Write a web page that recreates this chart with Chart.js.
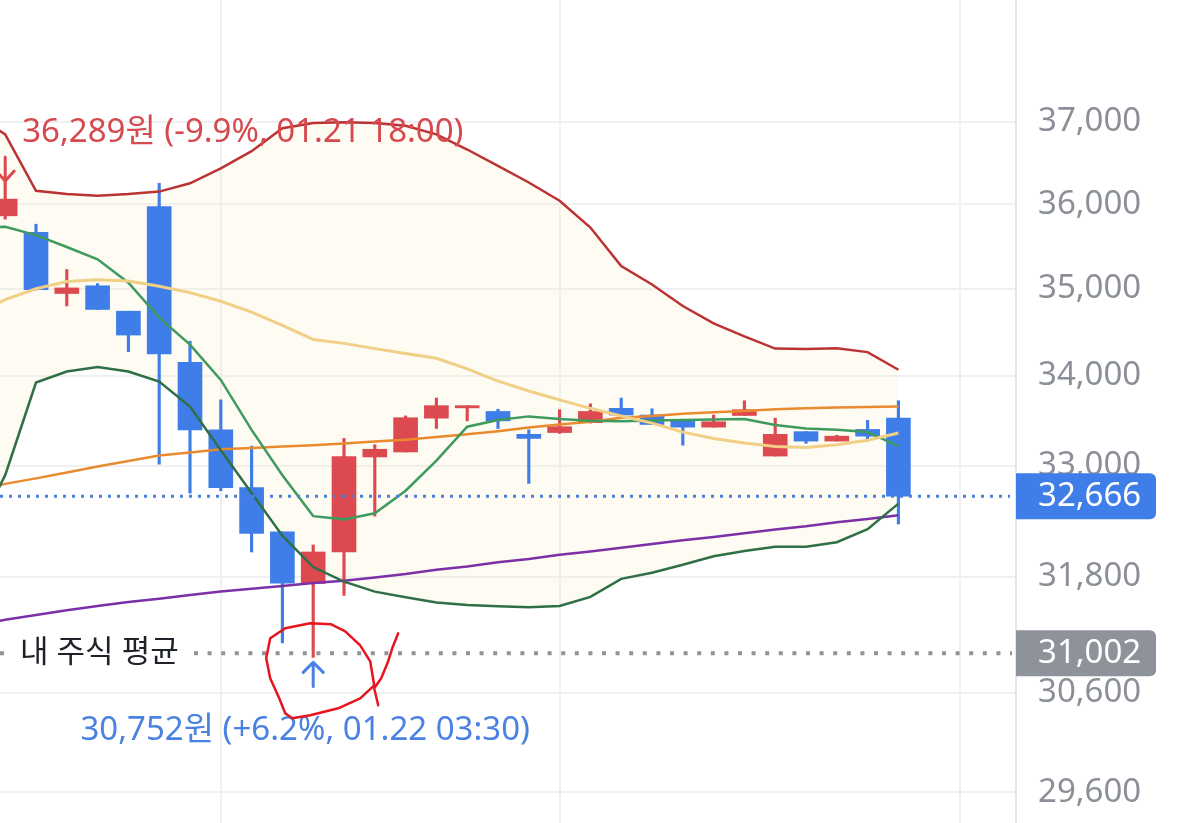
<!DOCTYPE html>
<html lang="ko">
<head>
<meta charset="utf-8">
<script src="https://cdn.jsdelivr.net/npm/chart.js@4"></script>
<style>
  html, body { margin: 0; padding: 0; background: #fff; }
  #grafico { display: block; }
</style>
</head>
<body>
<canvas id="grafico" width="1200" height="823"></canvas>
<script>
// velas (indice de cada vela de 30 min)
const velas = [0, 1, 2, 3, 4, 5, 6, 7, 8, 9, 10, 11, 12, 13, 14, 15, 16, 17, 18, 19, 20, 21, 22, 23, 24, 25, 26, 27, 28, 29];
const abertura = [35860, 35665, 34945, 35035, 34740, 35970, 34155, 33395, 32760, 32280, 31730, 32065, 33095, 33150, 33525, 33640, 33600, 33345, 33365, 33475, 33635, 33560, 33500, 33425, 33555, 33105, 33375, 33270, 33400, 33525];
const maxima = [36289, 35760, 35225, 35060, 34740, 36250, 34395, 33730, 33215, 32280, 32140, 33300, 33230, 33550, 33750, 33665, 33625, 33395, 33620, 33685, 33750, 33630, 33500, 33560, 33720, 33525, 33375, 33335, 33500, 33720];
const minima = [35820, 34985, 34800, 34760, 34275, 33015, 32700, 32725, 32065, 31110, 30960, 31605, 32450, 33150, 33410, 33495, 33410, 32805, 33355, 33470, 33560, 33455, 33225, 33425, 33555, 33105, 33245, 33270, 33270, 32365];
const fechamento = [36060, 34990, 35010, 34760, 34465, 34250, 33395, 32760, 32265, 31735, 32065, 33100, 33180, 33530, 33665, 33665, 33495, 33300, 33430, 33600, 33560, 33455, 33425, 33485, 33620, 33345, 33270, 33325, 33325, 32666];

// indicadores (comecam uma vela antes da primeira visivel)
const linhaX = [-1, 0, 1, 2, 3, 4, 5, 6, 7, 8, 9, 10, 11, 12, 13, 14, 15, 16, 17, 18, 19, 20, 21, 22, 23, 24, 25, 26, 27, 28, 29];
const bandaSuperior = [37090, 36845, 36160, 36120, 36100, 36120, 36150, 36250, 36430, 36640, 36920, 36985, 36995, 36985, 36950, 36845, 36660, 36460, 36260, 36040, 35720, 35265, 35050, 34800, 34600, 34450, 34310, 34305, 34315, 34270, 34070];
const bandaInferior = [32235, 32895, 33925, 34050, 34100, 34050, 33935, 33655, 33170, 32700, 32240, 31905, 31750, 31645, 31585, 31530, 31505, 31490, 31480, 31495, 31590, 31780, 31845, 31930, 32020, 32075, 32120, 32120, 32170, 32310, 32585];
const bandaMeio = [34690, 34875, 35000, 35085, 35105, 35090, 35030, 34955, 34855, 34730, 34575, 34415, 34370, 34310, 34255, 34200, 34080, 33940, 33830, 33730, 33635, 33550, 33470, 33370, 33300, 33250, 33210, 33200, 33230, 33280, 33360];
const media5 = [35710, 35730, 35630, 35490, 35345, 35070, 34665, 34355, 33955, 33395, 32895, 32450, 32415, 32480, 32725, 33055, 33430, 33505, 33545, 33515, 33495, 33490, 33500, 33505, 33510, 33515, 33450, 33410, 33395, 33370, 33215];
const mediaLaranja = [32715, 32800, 32860, 32925, 32990, 33050, 33110, 33145, 33180, 33195, 33210, 33225, 33245, 33265, 33285, 33315, 33345, 33380, 33420, 33455, 33485, 33530, 33550, 33575, 33590, 33605, 33625, 33635, 33645, 33650, 33655];
const mediaRoxa = [31295, 31350, 31400, 31450, 31495, 31535, 31570, 31610, 31645, 31675, 31705, 31735, 31760, 31795, 31830, 31875, 31910, 31955, 31990, 32035, 32070, 32110, 32150, 32190, 32225, 32265, 32305, 32340, 32385, 32420, 32460];

// eixo
const marcasY = [37000, 36000, 35000, 34000, 33000, 31800, 30600, 29600];
const gradeX = [7, 18, 31];

// referencias
const precoAtual = 32666;
const precoMedio = 31002;
const indiceMaxima = 0;
const indiceMinima = 10;
const textoMaxima = '36,289원 (-9.9%, 01.21 18:00)';
const textoMinima = '30,752원 (+6.2%, 01.22 03:30)';
const textoMedio = '내 주식 평균';

const vermelho = '#dc4a4f';
const azul = '#3f7de8';
const fonte = "'Noto Sans', 'Noto Sans CJK KR', sans-serif";

Chart.defaults.font.family = fonte;

const pontos = (valores) => linhaX.map((x, k) => ({ x: x, y: valores[k] }));
const coresVela = velas.map((v, k) => fechamento[k] >= abertura[k] ? vermelho : azul);

function linha(valores, cor, largura) {
    return {
        type: 'line',
        data: pontos(valores),
        borderColor: cor,
        borderWidth: largura,
        pointRadius: 0,
        tension: 0,
        fill: false,
        order: 1
    };
}

function semPadding(s) {
    s.paddingTop = 0;
    s.paddingBottom = 0;
    s.paddingLeft = 0;
    s.paddingRight = 0;
}

const sobreposicao = {
    id: 'sobreposicao',
    afterDatasetsDraw(chart) {
        const ctx = chart.ctx;
        const area = chart.chartArea;
        const x = chart.scales.x;
        const y = chart.scales.y;
        ctx.save();

        // linha pontilhada do preco atual
        const yAtual = y.getPixelForValue(precoAtual);
        ctx.strokeStyle = '#4a7fdc';
        ctx.lineWidth = 3;
        ctx.setLineDash([3, 6]);
        ctx.beginPath();
        ctx.moveTo(area.left, yAtual);
        ctx.lineTo(area.right - 6, yAtual);
        ctx.stroke();

        // linha do preco medio
        const yMedio = y.getPixelForValue(precoMedio);
        ctx.strokeStyle = '#8f949b';
        ctx.lineWidth = 4;
        ctx.setLineDash([4, 9.6]);
        ctx.beginPath();
        ctx.moveTo(area.left, yMedio);
        ctx.lineTo(area.left + 6, yMedio);
        ctx.moveTo(area.left + 194, yMedio);
        ctx.lineTo(area.right - 4, yMedio);
        ctx.stroke();
        ctx.setLineDash([]);

        ctx.font = '31px ' + fonte;
        ctx.fillStyle = '#1f2329';
        ctx.textAlign = 'left';
        ctx.textBaseline = 'middle';
        ctx.fillText(textoMedio, area.left + 20, yMedio);

        // seta da maxima
        const xMax = x.getPixelForValue(indiceMaxima);
        const yMax = y.getPixelForValue(maxima[indiceMaxima]) + 1;
        ctx.strokeStyle = vermelho;
        ctx.lineWidth = 3;
        ctx.lineCap = 'round';
        ctx.lineJoin = 'round';
        ctx.beginPath();
        ctx.moveTo(xMax, yMax - 24);
        ctx.lineTo(xMax, yMax);
        ctx.moveTo(xMax - 9, yMax - 10);
        ctx.lineTo(xMax, yMax);
        ctx.lineTo(xMax + 9, yMax - 10);
        ctx.stroke();
        ctx.fillStyle = '#d64a4f';
        ctx.font = '33px ' + fonte;
        ctx.fillText(textoMaxima, xMax + 17, yMax - 48);

        // seta da minima
        const xMin = x.getPixelForValue(indiceMinima);
        const yMin = y.getPixelForValue(minima[indiceMinima]) + 5;
        ctx.strokeStyle = '#4a82e2';
        ctx.beginPath();
        ctx.moveTo(xMin, yMin + 24);
        ctx.lineTo(xMin, yMin);
        ctx.moveTo(xMin - 10, yMin + 10);
        ctx.lineTo(xMin, yMin);
        ctx.lineTo(xMin + 10, yMin + 10);
        ctx.stroke();
        ctx.fillStyle = '#4a82e2';
        ctx.textAlign = 'center';
        ctx.fillText(textoMinima, xMin - 8, yMin + 68);

        // rabisco vermelho em volta da minima
        const rx = xMin, ry = yMedio;
        const circulo = [[18, -29], [-3, -30], [-28, -25], [-43, -15], [-47, 5], [-43, 25], [-34, 45], [-28, 60], [-21, 65], [-3, 62], [25, 55], [47, 45], [61, 32], [57, 8], [47, -8], [32, -22], [18, -29]];
        const risco = [[85, -20], [79, -5], [75, 8], [68, 25], [61, 35], [65, 52]];
        ctx.strokeStyle = '#e8141e';
        ctx.lineWidth = 2.5;
        [circulo, risco].forEach(function(tracado) {
            ctx.beginPath();
            tracado.forEach(function(p, i) {
                if (i === 0) ctx.moveTo(rx + p[0], ry + p[1]);
                else ctx.lineTo(rx + p[0], ry + p[1]);
            });
            ctx.stroke();
        });

        // caixas no eixo
        function caixa(valor, cor) {
            const yc = y.getPixelForValue(valor);
            ctx.fillStyle = cor;
            ctx.beginPath();
            ctx.roundRect(area.right, yc - 23, 140, 46, [0, 6, 6, 0]);
            ctx.fill();
            ctx.fillStyle = '#ffffff';
            ctx.font = '33px ' + fonte;
            ctx.textAlign = 'left';
            ctx.textBaseline = 'middle';
            ctx.fillText(valor.toLocaleString('en-US'), area.right + 22, yc);
        }
        caixa(precoAtual, '#3f7de8');
        caixa(precoMedio, '#8e939b');

        ctx.restore();
    }
};

new Chart(document.getElementById('grafico'), {
    data: {
        datasets: [
            Object.assign(linha(bandaSuperior, '#bb3333', 2.5), { fill: { target: 1 }, backgroundColor: 'rgba(247, 236, 190, 0.2)' }),
            linha(bandaInferior, '#2f6f46', 2.5),
            linha(bandaMeio, '#f2cf86', 3),
            linha(media5, '#3f9a5e', 2.5),
            linha(mediaLaranja, '#e98a2e', 2.5),
            linha(mediaRoxa, '#7b30a8', 2.5),
            {
                type: 'bar',
                data: velas.map((v, k) => ({ x: v, y: [minima[k], maxima[k]] })),
                backgroundColor: coresVela,
                barThickness: 2.5,
                grouped: false,
                order: 5
            },
            {
                type: 'bar',
                data: velas.map((v, k) => ({ x: v, y: [abertura[k], fechamento[k]] })),
                backgroundColor: coresVela,
                barThickness: 24,
                grouped: false,
                order: 5
            }
        ]
    },
    options: {
        responsive: false,
        animation: false,
        layout: { padding: 0 },
        plugins: {
            legend: { display: false },
            tooltip: { enabled: false },
            filler: { drawTime: 'beforeDatasetsDraw' }
        },
        scales: {
            x: {
                type: 'linear',
                offset: false,
                min: -0.1688,
                max: 32.818,
                afterBuildTicks: s => { s.ticks = gradeX.map(v => ({ value: v })); },
                afterFit: s => { s.height = 0; semPadding(s); },
                ticks: { display: false },
                grid: { color: '#eff0f3', lineWidth: 2, drawTicks: false, offset: false },
                border: { display: false }
            },
            y: {
                type: 'logarithmic',
                position: 'right',
                min: 29300,
                max: 38530,
                afterBuildTicks: s => { s.ticks = marcasY.map(v => ({ value: v })); },
                afterFit: s => { s.width = 184; semPadding(s); },
                ticks: {
                    autoSkip: false,
                    padding: 22,
                    color: '#8b9098',
                    font: { size: 33 },
                    callback: v => Number(v).toLocaleString('en-US')
                },
                grid: { color: '#eff0f3', lineWidth: 2, drawTicks: false },
                border: { display: true, color: '#e4e6ea', width: 2 }
            }
        }
    },
    plugins: [sobreposicao]
});
</script>
</body>
</html>
